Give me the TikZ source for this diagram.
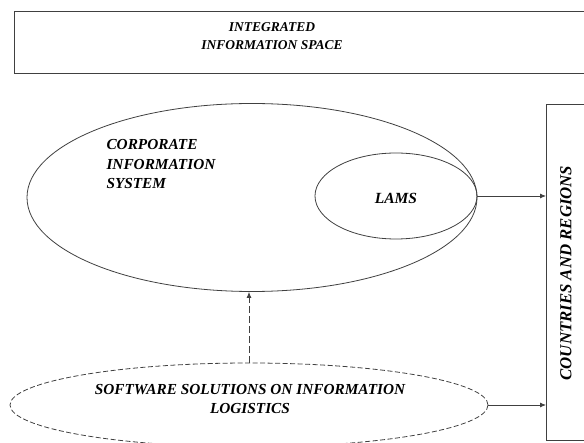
\documentclass[tikz,border=0pt]{standalone}
\usepackage{fontspec}
\setmainfont{Liberation Serif}
\usetikzlibrary{shapes.geometric,arrows.meta}
\begin{document}
\begin{tikzpicture}[x=1pt,y=-1pt,
  lbl/.style={font=\bfseries\itshape\fontsize{15.3}{19}\selectfont, align=left},
  ln/.style={draw=black!75, line width=0.8pt},
  arr/.style={ln, -{Latex[length=6pt,width=5pt]}},
  oval/.style={ellipse, ln, inner sep=0pt},
  dsh/.style={dash pattern=on 5pt off 2.5pt}]
\clip (0,0) rectangle (584,443);
\node[ln, draw, minimum width=580pt, minimum height=62pt, anchor=north west, inner sep=0pt] (iis) at (14,11) {};
\node[lbl, align=center, font=\bfseries\itshape\fontsize{13.5}{18}\selectfont] (iist) at (272,36) {INTEGRATED\\INFORMATION SPACE};
\node[oval, minimum width=450pt, minimum height=188pt] (cis) at (252,197.5) {};
\node[lbl, anchor=north west, font=\bfseries\itshape\fontsize{15.3}{19.5}\selectfont] (cist) at (103,136) {CORPORATE\\INFORMATION\\SYSTEM};
\node[oval, minimum width=162pt, minimum height=86pt] (lams) at (396,196) {};
\node[lbl, font=\bfseries\itshape\fontsize{15.5}{19}\selectfont] (lamst) at (396,198) {LAMS};
\node[ln, draw, minimum width=60pt, minimum height=336pt, anchor=north west, inner sep=0pt] (cr) at (546,104) {};
\node[lbl, rotate=90, font=\bfseries\itshape\fontsize{16.8}{19}\selectfont] (crt) at (566,273) {COUNTRIES AND REGIONS};
\node[oval, dsh, minimum width=478pt, minimum height=84pt] (sw) at (249,405) {};
\node[lbl, align=center] (swt) at (250,399) {SOFTWARE SOLUTIONS ON INFORMATION\\LOGISTICS};
\draw[arr] (lams.east) -- (lams.east -| cr.west);
\draw[arr] (sw.east) -- (sw.east -| cr.west);
\draw[arr, dash pattern=on 7pt off 3pt] (sw.north) -- (sw.north |- cis.south);
\end{tikzpicture}
\end{document}
